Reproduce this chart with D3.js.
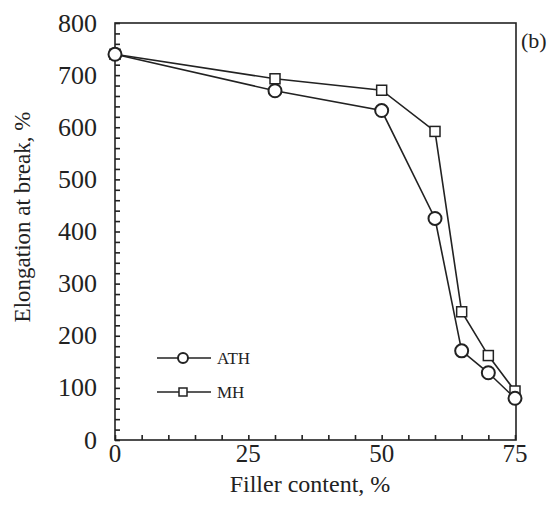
<!DOCTYPE html>
<html>
<head>
<meta charset="utf-8">
<script src="https://cdn.jsdelivr.net/npm/d3@7"></script>
<style>
  body { margin: 0; background: #fff; }
  text { font-family: "Liberation Serif", "DejaVu Serif", serif; fill: #222; }
</style>
</head>
<body>
<div id="chart"></div>
<script>
// filler content, %
const filler = [0, 30, 50, 60, 65, 70, 75]
// elongation at break, %
const athValues = [740, 670, 632, 425, 171, 129, 80]
const mhValues = [740, 693, 671, 592, 246, 162, 94]
const xTicks = [0, 25, 50, 75]
const yTicks = [0, 100, 200, 300, 400, 500, 600, 700, 800]

const margin = {top: 23, right: 39, bottom: 70, left: 115}
const width = 555 - margin.left - margin.right
const height = 510 - margin.top - margin.bottom

const svg = d3.select("#chart")
  .append("svg")
  .attr("width", 555)
  .attr("height", 510)
const g = svg.append("g")
  .attr("transform", "translate(" + margin.left + "," + margin.top + ")")

const x = d3.scaleLinear().domain([0, 75]).range([0, width - 1])
const y = d3.scaleLinear().domain([0, 800]).range([height, 0])

// frame
g.append("rect")
  .attr("width", width).attr("height", height)
  .attr("fill", "none").attr("stroke", "#222").attr("stroke-width", 1.6)

// inward ticks, minor every 5 / 20
const xAxis = g.append("g")
  .attr("transform", "translate(0," + height + ")")
  .call(d3.axisBottom(x).tickValues(d3.range(0, 76, 5)).tickSize(-5).tickFormat(""))
const yAxis = g.append("g")
  .call(d3.axisLeft(y).tickValues(d3.range(0, 801, 20)).tickSize(-5).tickFormat(""))
;[xAxis, yAxis].forEach(a => {
  a.select(".domain").remove()
  a.selectAll("line").attr("stroke", "#222").attr("stroke-width", 1.6)
})

// tick labels
g.selectAll(".xlab").data(xTicks).enter().append("text")
  .attr("x", d => x(d)).attr("y", height + 22)
  .attr("text-anchor", "middle").attr("font-size", 25)
  .text(d => d)
g.selectAll(".ylab").data(yTicks).enter().append("text")
  .attr("x", -18).attr("y", d => y(d) + 8.5)
  .attr("text-anchor", "end").attr("font-size", 26)
  .text(d => d)

// axis titles
svg.append("text")
  .attr("x", 310).attr("y", 492)
  .attr("text-anchor", "middle").attr("font-size", 24)
  .text("Filler content, %")
svg.append("text")
  .attr("transform", "translate(30,217) rotate(-90)")
  .attr("text-anchor", "middle").attr("font-size", 23)
  .text("Elongation at break, %")
svg.append("text")
  .attr("x", 521).attr("y", 48).attr("font-size", 22)
  .text("(b)")

const line = d3.line().x(d => x(d[0])).y(d => y(d[1]))
const ath = filler.map((f, i) => [f, athValues[i]])
const mh = filler.map((f, i) => [f, mhValues[i]])

g.append("path").datum(mh).attr("d", line)
  .attr("fill", "none").attr("stroke", "#222").attr("stroke-width", 1.6)
g.append("path").datum(ath).attr("d", line)
  .attr("fill", "none").attr("stroke", "#222").attr("stroke-width", 1.6)

g.selectAll(".sq").data(mh).enter().append("rect")
  .attr("x", d => x(d[0]) - 5).attr("y", d => y(d[1]) - 5)
  .attr("width", 10).attr("height", 10)
  .attr("fill", "#fff").attr("stroke", "#222").attr("stroke-width", 1.5)
g.selectAll(".ci").data(ath).enter().append("circle")
  .attr("cx", d => x(d[0])).attr("cy", d => y(d[1])).attr("r", 6.5)
  .attr("fill", "#fff").attr("stroke", "#222").attr("stroke-width", 2)

// legend
const legend = [
  {name: "ATH", y: 358},
  {name: "MH", y: 392}
]
legend.forEach(l => {
  svg.append("line")
    .attr("x1", 157).attr("x2", 211).attr("y1", l.y).attr("y2", l.y)
    .attr("stroke", "#222").attr("stroke-width", 1.6)
  if (l.name == "ATH") {
    svg.append("circle").attr("cx", 183).attr("cy", l.y).attr("r", 5)
      .attr("fill", "#fff").attr("stroke", "#222").attr("stroke-width", 2)
  } else {
    svg.append("rect").attr("x", 179).attr("y", l.y - 4).attr("width", 8).attr("height", 8)
      .attr("fill", "#fff").attr("stroke", "#222").attr("stroke-width", 1.5)
  }
  svg.append("text").attr("x", 217).attr("y", l.y + 6)
    .attr("font-size", 17).text(l.name)
})
</script>
</body>
</html>
